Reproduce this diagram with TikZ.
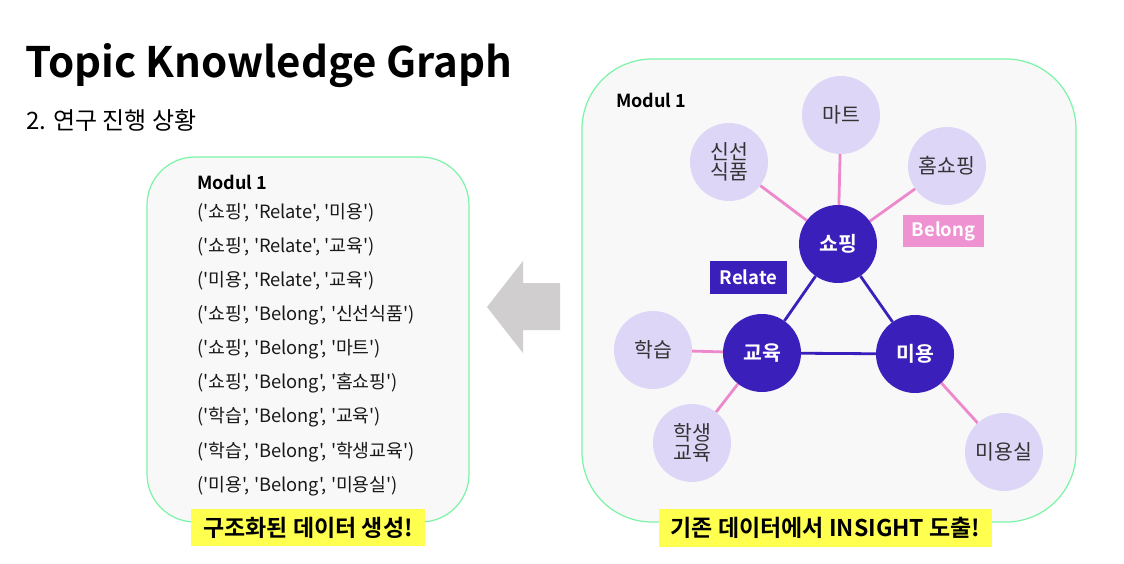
\documentclass[tikz,border=0pt]{standalone}
\usepackage{fontspec}
\setmainfont{Noto Sans CJK KR}[BoldFont={Noto Sans CJK KR Bold}]
\newfontfamily\plainkr{Noto Sans CJK KR}
\usetikzlibrary{backgrounds}
\definecolor{panelfill}{HTML}{F8F8F8}
\definecolor{panelline}{HTML}{7CF4A6}
\definecolor{darkpurple}{HTML}{3B1FBA}
\definecolor{lavender}{HTML}{DDD6F7}
\definecolor{pinkline}{HTML}{EE88CC}
\definecolor{pinklabel}{HTML}{EE92D2}
\definecolor{hilite}{HTML}{FFFF4F}
\definecolor{arrowgray}{HTML}{D0CECF}
\definecolor{txtgray}{HTML}{333333}
\pgfdeclarelayer{back}
\pgfdeclarelayer{edges}
\pgfsetlayers{back,edges,main}
\tikzset{
  panel/.style={draw=panelline, line width=1.2pt, fill=panelfill},
  topic/.style={circle, fill=darkpurple, minimum size=78pt, inner sep=0pt, text=white, font=\fontsize{20.5}{23}\selectfont\bfseries},
  leaf/.style={circle, fill=lavender, minimum size=78pt, inner sep=0pt, text=txtgray, align=center, font=\fontsize{20.5}{23}\selectfont},
  rel/.style={draw=darkpurple, line width=2.8pt},
  bel/.style={draw=pinkline, line width=2.8pt},
  tag/.style={inner sep=0pt, text=white, font=\fontsize{18.5}{21}\selectfont\bfseries},
  hl/.style={fill=hilite, inner sep=0pt, font=\fontsize{23}{27}\selectfont\bfseries},
  tuple/.style={anchor=west, inner sep=0pt, font=\plainkr\fontsize{18.3}{21}\selectfont, text=black!90},
}
\begin{document}
\begin{tikzpicture}[x=1pt, y=-1pt]
\useasboundingbox (0,0) rectangle (1124,564);
\begin{pgfonlayer}{back}
\fill[white] (0,0) rectangle (1124,564);
\end{pgfonlayer}

% title
\node[anchor=base west, inner sep=0pt, font=\fontsize{42}{48}\selectfont\bfseries] (title) at (25,78) {Topic Knowledge Graph};
\node[anchor=base west, inner sep=0pt, font=\fontsize{24}{28}\selectfont] (subtitle) at (26,130) {2. 연구 진행 상황};

% panels
\begin{pgfonlayer}{back}
\draw[panel, rounded corners=48pt] (147,157) rectangle (469,522);
\draw[panel, rounded corners=70pt] (582,59) rectangle (1076,522);
\end{pgfonlayer}
\node[anchor=west, inner sep=0pt, font=\fontsize{18}{21}\selectfont\bfseries] (lmod) at (197,182) {Modul 1};
\node[tuple] (t1) at (197,213) {('쇼핑', 'Relate', '미용')};
\node[tuple] (t2) at (197,247) {('쇼핑', 'Relate', '교육')};
\node[tuple] (t3) at (197,281) {('미용', 'Relate', '교육')};
\node[tuple] (t4) at (197,315) {('쇼핑', 'Belong', '신선식품')};
\node[tuple] (t5) at (197,349) {('쇼핑', 'Belong', '마트')};
\node[tuple] (t6) at (197,383) {('쇼핑', 'Belong', '홈쇼핑')};
\node[tuple] (t7) at (197,417) {('학습', 'Belong', '교육')};
\node[tuple] (t8) at (197,452) {('학습', 'Belong', '학생교육')};
\node[tuple] (t9) at (197,486) {('미용', 'Belong', '미용실')};

\node[hl, minimum width=234pt, minimum height=37pt] (lhl) at (308,527.5) {구조화된 데이터 생성!};

% arrow
\fill[arrowgray] (487,307) -- (523,261) -- (523,283) -- (560,283) -- (560,330) -- (523,330) -- (523,353) -- cycle;

% right panel
\node[anchor=west, inner sep=0pt, font=\fontsize{18}{21}\selectfont\bfseries] (rmod) at (616,100) {Modul 1};

\node[topic] (shop) at (838,244) {쇼핑};
\node[topic] (edu) at (762,353) {교육};
\node[topic] (beauty) at (915,354) {미용};

\node[leaf] (mart) at (841,115) {마트};
\node[leaf] (fresh) at (729,162) {신선\\[-3pt]식품};
\node[leaf] (home) at (947,166) {홈쇼핑};
\node[leaf] (learn) at (653,350) {학습};
\node[leaf] (stud) at (692,443) {학생\\[-3pt]교육};
\node[leaf] (salon) at (1004,452) {미용실};

\begin{pgfonlayer}{edges}
\draw[rel] (shop) -- (edu);
\draw[rel] (shop) -- (beauty);
\draw[rel] (edu) -- (beauty);
\draw[bel] (shop) -- (fresh);
\draw[bel] (shop) -- (mart);
\draw[bel] (shop) -- (home);
\draw[bel] (edu) -- (learn);
\draw[bel] (edu) -- (stud);
\draw[bel] (beauty) -- (salon);
\end{pgfonlayer}

\node[tag, fill=darkpurple, minimum width=77pt, minimum height=33pt] (relate) at (748.5,277.5) {Relate};
\node[tag, fill=pinklabel, minimum width=81pt, minimum height=32pt] (belong) at (943.5,231) {Belong};

\node[hl, minimum width=333pt, minimum height=38pt] (rhl) at (825.5,528) {기존 데이터에서 INSIGHT 도출!};
\end{tikzpicture}
\end{document}
